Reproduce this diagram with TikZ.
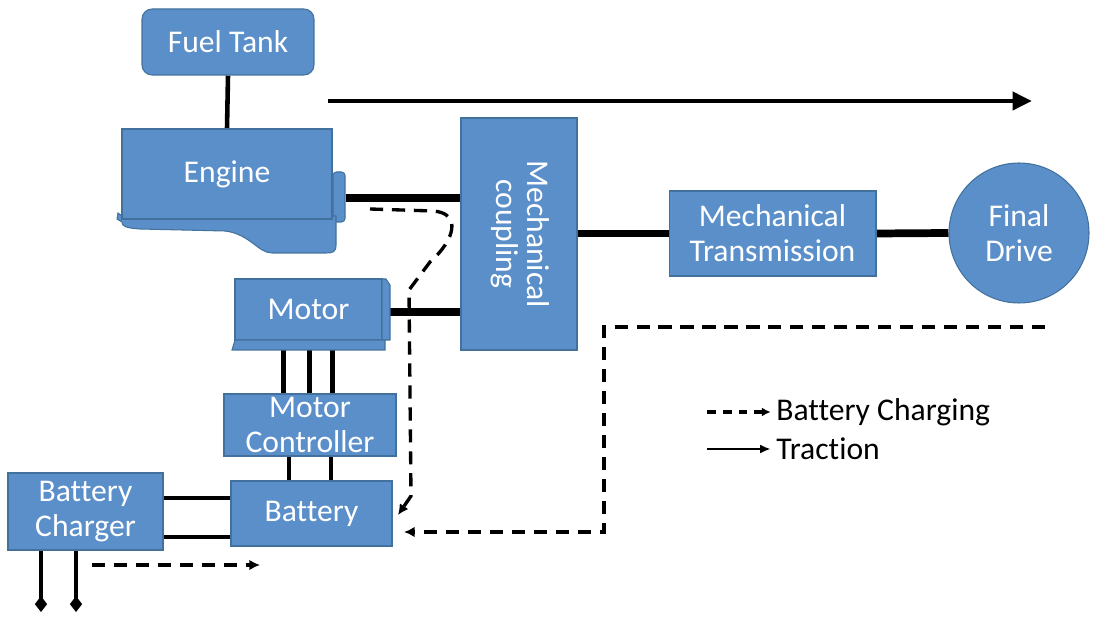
\documentclass[tikz,border=0pt]{standalone}
\usepackage{fontspec}
\setmainfont{Carlito}[Ligatures=NoCommon]
\usetikzlibrary{arrows.meta,positioning,backgrounds}
\definecolor{blkfill}{RGB}{91,143,202}
\definecolor{blkline}{RGB}{65,113,156}

\begin{document}
\begin{tikzpicture}[
    x=0.02cm, y=-0.02cm,
    every node/.style={font=\fontsize{18}{20}\selectfont},
    blk/.style={draw=blkline, fill=blkfill, text=white, align=center, inner sep=0pt, line width=0.6pt},
    blkpart/.style={draw=blkline, fill=blkfill, line width=0.6pt},
    wire/.style={line width=2.6pt},
    shaft/.style={line width=4.4pt},
    chg/.style={line width=1.9pt, dash pattern=on 7.5pt off 5pt, -{Latex[length=6pt,width=6pt]}},
    legtxt/.style={anchor=west, inner sep=0pt}
  ]
    \useasboundingbox (0,0) rectangle (1118,617);

    %------------------ Engine side ------------------%
    \node[blk, rounded corners=0.2cm, minimum width=3.44cm, minimum height=1.32cm] (fuel) at (228,42) {Fuel Tank};

    % Engine body
    \node[blk, rounded corners=2pt, minimum width=0.24cm, minimum height=1.0cm] (engshaft) at (339,197) {};
    \filldraw[blkpart] (118,213) -- (122,216) -- (336,216) -- (336,245)
      .. controls (336,252) and (333,253) .. (326,253) -- (272,253)
      .. controls (258,253) and (250,234) .. (225,231) -- (140,229)
      .. controls (125,228) and (122,226) .. (122,222) -- (117,219) -- cycle;
    \node[blk, minimum width=4.2cm, minimum height=1.8cm] (engine) at (227,174) {Engine};

    % Coupling, transmission, final drive
    \node[blk, minimum width=2.32cm, minimum height=4.64cm] (coupling) at (519,234)
      {\rotatebox{-90}{\begin{tabular}{@{}c@{}}Mechanical\\[-2pt]coupling\end{tabular}}};
    \node[blk, minimum width=4.14cm, minimum height=1.7cm] (trans) at (772.5,233.5) {Mechanical\\Transmission};
    \node[blk, circle, minimum size=2.8cm] (final) at (1019,233) {Final\\Drive};

    %------------------ Electric side ------------------%
    \node[blk, minimum width=2.94cm, minimum height=1.22cm] (motor) at (308.5,309.5) {Motor};
    \filldraw[blkpart] (382,279) -- (386,279) -- (390,285) -- (390,340) -- (382,340) -- cycle;
    \filldraw[blkpart] (235,340) -- (385,340) -- (385,350) -- (232,350) -- cycle;

    \node[blk, minimum width=3.44cm, minimum height=1.24cm] (ctrl) at (310,425) {Motor\\Controller};
    \node[blk, minimum width=3.22cm, minimum height=1.3cm] (battery) at (311.5,513.5) {Battery};
    \node[blk, minimum width=3.1cm, minimum height=1.54cm] (charger) at (85.5,511.5) {Battery\\Charger};

    % Free ends
    \coordinate (trA) at (328,101);
    \coordinate (trB) at (1032,101);
    \coordinate (plug1) at (41,612);
    \coordinate (plug2) at (76,612);
    \coordinate (plugA) at (92,565);
    \coordinate (plugB) at (260,565);
    \coordinate (regA) at (370,209);
    \coordinate (regB) at (398,515);
    \coordinate (brkA) at (1045,327);
    \coordinate (brkB) at (404,532);

    %------------------ Connectors ------------------%
    \begin{scope}[on background layer]
      \draw[wire] (fuel.south) -- (engine.north);
      \draw[shaft] (engshaft.east |- 0,198) -- (coupling.west |- 0,198);
      \draw[shaft] (coupling.east |- trans.west) -- (trans.west);
      \draw[shaft] (trans.east) -- (final.west);
      \draw[shaft] (390,312) -- (coupling.west |- 0,312);
      \foreach \dx in {-0.53,-0.01,0.45}
        \draw[wire] ([xshift=\dx cm]ctrl.north) -- ([xshift=\dx cm]ctrl.north |- motor.south);
      \foreach \dx in {-0.45,0.39}
        \draw[wire] ([xshift=\dx cm]battery.north) -- ([xshift=\dx cm]battery.north |- ctrl.south);
      \foreach \dy in {0.27,-0.51}
        \draw[wire] ([yshift=\dy cm]charger.east) -- ([yshift=\dy cm]charger.east -| battery.west);
      \draw[wire, -{Diamond[length=9pt,width=7pt]}] (charger.south -| plug1) -- (plug1);
      \draw[wire, -{Diamond[length=9pt,width=7pt]}] (charger.south -| plug2) -- (plug2);
    \end{scope}

    % Traction arrow
    \draw[line width=2.8pt, -{Triangle[length=11pt,width=10pt]}] (trA) -- (trB);

    % Charging paths
    \draw[chg] (plugA) -- (plugB);
    \draw[chg] (regA) -- (433,211) .. controls (462,213) and (455,240) .. (430,262)
      -- (409,290) -- (411,496) -- (regB);
    \draw[chg] (brkA) -- (604,327) -- (604,532) -- (brkB);

    %------------------ Legend ------------------%
    \node[legtxt] (legchg) at (776,412) {Battery Charging};
    \node[legtxt] (legtr) at (776,449) {Traction};
    \coordinate (legchgA) at (707,412);
    \coordinate (legtrA) at (707,449);
    \draw[line width=1.8pt, dash pattern=on 5pt off 4pt, -{Latex[length=5pt,width=5pt]}, shorten >=3pt] (legchgA) -- (legchg.west);
    \draw[line width=1.4pt, -{Latex[length=6pt,width=5pt]}, shorten >=3pt] (legtrA) -- (legtr.west);

  \end{tikzpicture}
\end{document}
